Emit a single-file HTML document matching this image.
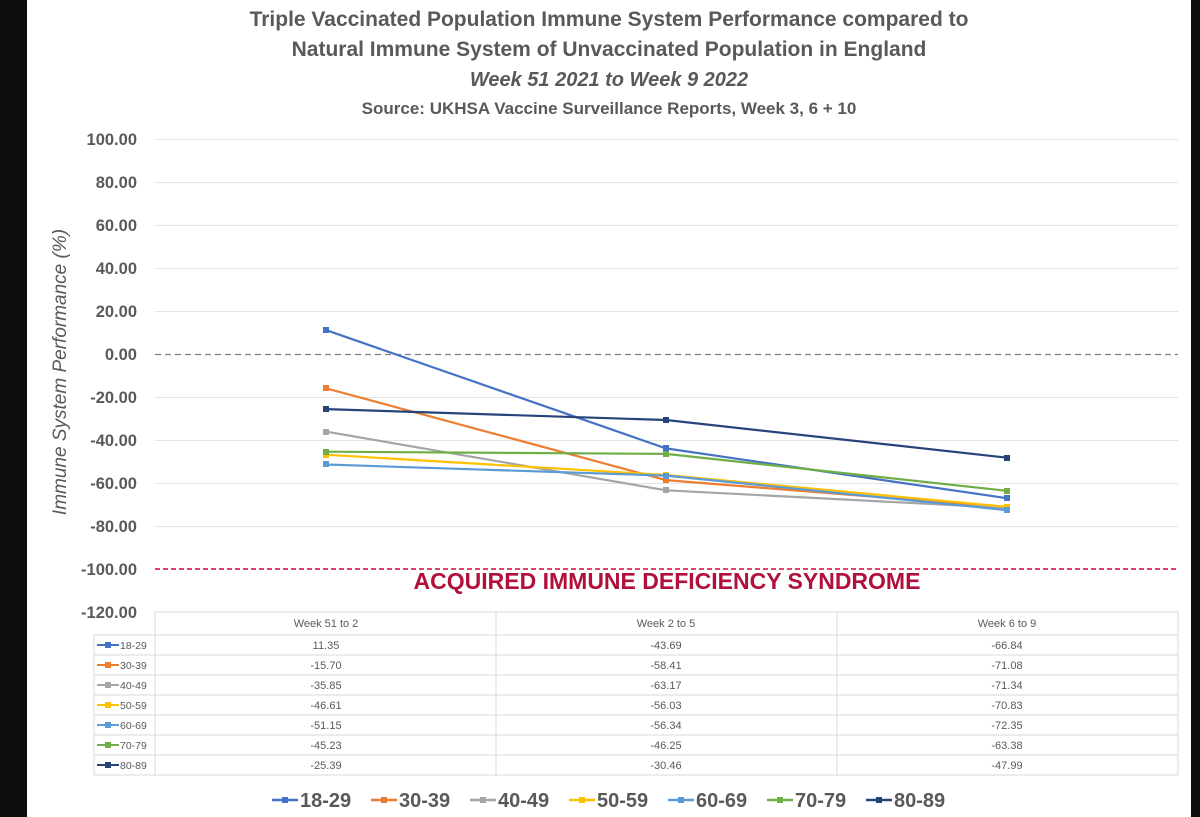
<!DOCTYPE html>
<html><head><meta charset="utf-8"><style>
body{margin:0;background:#0d0d0d;}
svg{display:block;font-family:"Liberation Sans",sans-serif;}
</style></head><body>
<svg width="1200" height="817" xmlns="http://www.w3.org/2000/svg">
<rect x="0" y="0" width="1200" height="817" fill="#0d0d0d"/>
<rect x="27" y="0" width="1164" height="817" fill="#fff"/>
<g fill="#595959" font-weight="bold" text-anchor="middle">
<text x="609" y="26" font-size="21">Triple Vaccinated Population Immune System Performance compared to</text>
<text x="609" y="56" font-size="21">Natural Immune System of Unvaccinated Population in England</text>
<text x="609" y="86" font-size="20" font-style="italic">Week 51 2021 to Week 9 2022</text>
<text x="609" y="114" font-size="17">Source: UKHSA Vaccine Surveillance Reports, Week 3, 6 + 10</text>
</g>
<g stroke="#e3e3e3" stroke-width="1">
<line x1="155" x2="1178" y1="139.5" y2="139.5"/><line x1="155" x2="1178" y1="182.5" y2="182.5"/>
<line x1="155" x2="1178" y1="225.5" y2="225.5"/><line x1="155" x2="1178" y1="268.5" y2="268.5"/>
<line x1="155" x2="1178" y1="311.5" y2="311.5"/><line x1="155" x2="1178" y1="397.5" y2="397.5"/>
<line x1="155" x2="1178" y1="440.5" y2="440.5"/><line x1="155" x2="1178" y1="483.5" y2="483.5"/>
<line x1="155" x2="1178" y1="526.5" y2="526.5"/>
</g>
<line x1="155" x2="1178" y1="354.5" y2="354.5" stroke="#808080" stroke-width="1.2" stroke-dasharray="6,4"/>
<line x1="155" x2="1178" y1="569" y2="569" stroke="#e0003c" stroke-width="1.5" stroke-dasharray="5,3"/>
<text x="667" y="589" font-size="23" font-weight="bold" fill="#b0103a" text-anchor="middle">ACQUIRED IMMUNE DEFICIENCY SYNDROME</text>
<g fill="#595959" font-weight="bold" font-size="16.5" text-anchor="end">
<text x="137" y="145">100.00</text><text x="137" y="188">80.00</text><text x="137" y="231">60.00</text>
<text x="137" y="274">40.00</text><text x="137" y="317">20.00</text><text x="137" y="360">0.00</text>
<text x="137" y="403">-20.00</text><text x="137" y="446">-40.00</text><text x="137" y="489">-60.00</text>
<text x="137" y="532">-80.00</text><text x="137" y="575">-100.00</text><text x="137" y="618">-120.00</text>
</g>
<text transform="translate(66,372) rotate(-90)" font-size="19" font-style="italic" fill="#595959" text-anchor="middle">Immune System Performance (%)</text>
<g fill="none" stroke-width="2.2">
<polyline stroke="#4472C4" points="326,330.1 666,448.4 1007,498.2"/>
<polyline stroke="#ED7D31" points="326,388.3 666,480.1 1007,507.3"/>
<polyline stroke="#A5A5A5" points="326,431.6 666,490.3 1007,507.9"/>
<polyline stroke="#FFC000" points="326,454.7 666,475.0 1007,506.8"/>
<polyline stroke="#5B9BD5" points="326,464.5 666,475.6 1007,510.1"/>
<polyline stroke="#70AD47" points="326,451.7 666,453.9 1007,490.8"/>
<polyline stroke="#264478" points="326,409.1 666,420.0 1007,457.7"/>
</g>
<g>
<g fill="#4472C4"><rect x="323" y="327" width="6" height="6"/><rect x="663" y="445" width="6" height="6"/><rect x="1004" y="495" width="6" height="6"/></g>
<g fill="#ED7D31"><rect x="323" y="385" width="6" height="6"/><rect x="663" y="477" width="6" height="6"/><rect x="1004" y="504" width="6" height="6"/></g>
<g fill="#A5A5A5"><rect x="323" y="429" width="6" height="6"/><rect x="663" y="487" width="6" height="6"/><rect x="1004" y="505" width="6" height="6"/></g>
<g fill="#FFC000"><rect x="323" y="452" width="6" height="6"/><rect x="663" y="472" width="6" height="6"/><rect x="1004" y="504" width="6" height="6"/></g>
<g fill="#5B9BD5"><rect x="323" y="461" width="6" height="6"/><rect x="663" y="473" width="6" height="6"/><rect x="1004" y="507" width="6" height="6"/></g>
<g fill="#70AD47"><rect x="323" y="449" width="6" height="6"/><rect x="663" y="451" width="6" height="6"/><rect x="1004" y="488" width="6" height="6"/></g>
<g fill="#264478"><rect x="323" y="406" width="6" height="6"/><rect x="663" y="417" width="6" height="6"/><rect x="1004" y="455" width="6" height="6"/></g>
</g>
<g stroke="#d9d9d9" stroke-width="1" fill="none">
<rect x="155" y="612" width="1023" height="163"/>
<rect x="94" y="635" width="61" height="140"/>
<line x1="496" x2="496" y1="612" y2="775"/><line x1="837" x2="837" y1="612" y2="775"/>
<line x1="94" x2="1178" y1="635" y2="635"/><line x1="94" x2="1178" y1="655" y2="655"/>
<line x1="94" x2="1178" y1="675" y2="675"/><line x1="94" x2="1178" y1="695" y2="695"/>
<line x1="94" x2="1178" y1="715" y2="715"/><line x1="94" x2="1178" y1="735" y2="735"/>
<line x1="94" x2="1178" y1="755" y2="755"/>
</g>
<g font-size="11" fill="#595959" text-anchor="middle">
<text x="326" y="627">Week 51 to 2</text><text x="666" y="627">Week 2 to 5</text><text x="1007" y="627">Week 6 to 9</text>
<text x="326" y="649">11.35</text><text x="666" y="649">-43.69</text><text x="1007" y="649">-66.84</text>
<text x="326" y="669">-15.70</text><text x="666" y="669">-58.41</text><text x="1007" y="669">-71.08</text>
<text x="326" y="689">-35.85</text><text x="666" y="689">-63.17</text><text x="1007" y="689">-71.34</text>
<text x="326" y="709">-46.61</text><text x="666" y="709">-56.03</text><text x="1007" y="709">-70.83</text>
<text x="326" y="729">-51.15</text><text x="666" y="729">-56.34</text><text x="1007" y="729">-72.35</text>
<text x="326" y="749">-45.23</text><text x="666" y="749">-46.25</text><text x="1007" y="749">-63.38</text>
<text x="326" y="769">-25.39</text><text x="666" y="769">-30.46</text><text x="1007" y="769">-47.99</text>
</g>
<g font-size="10.5" fill="#595959">
<g stroke-width="2"><line x1="97" x2="119" y1="645" y2="645" stroke="#4472C4"/><line x1="97" x2="119" y1="665" y2="665" stroke="#ED7D31"/>
<line x1="97" x2="119" y1="685" y2="685" stroke="#A5A5A5"/><line x1="97" x2="119" y1="705" y2="705" stroke="#FFC000"/>
<line x1="97" x2="119" y1="725" y2="725" stroke="#5B9BD5"/><line x1="97" x2="119" y1="745" y2="745" stroke="#70AD47"/>
<line x1="97" x2="119" y1="765" y2="765" stroke="#264478"/></g>
<rect x="105" y="642" width="6" height="6" fill="#4472C4"/><rect x="105" y="662" width="6" height="6" fill="#ED7D31"/>
<rect x="105" y="682" width="6" height="6" fill="#A5A5A5"/><rect x="105" y="702" width="6" height="6" fill="#FFC000"/>
<rect x="105" y="722" width="6" height="6" fill="#5B9BD5"/><rect x="105" y="742" width="6" height="6" fill="#70AD47"/>
<rect x="105" y="762" width="6" height="6" fill="#264478"/>
<text x="120" y="649">18-29</text><text x="120" y="669">30-39</text><text x="120" y="689">40-49</text>
<text x="120" y="709">50-59</text><text x="120" y="729">60-69</text><text x="120" y="749">70-79</text><text x="120" y="769">80-89</text>
</g>
<g font-size="20" font-weight="bold" fill="#595959">
<g stroke-width="2.5">
<line x1="272" x2="298" y1="800" y2="800" stroke="#4472C4"/><line x1="371" x2="397" y1="800" y2="800" stroke="#ED7D31"/>
<line x1="470" x2="496" y1="800" y2="800" stroke="#A5A5A5"/><line x1="569" x2="595" y1="800" y2="800" stroke="#FFC000"/>
<line x1="668" x2="694" y1="800" y2="800" stroke="#5B9BD5"/><line x1="767" x2="793" y1="800" y2="800" stroke="#70AD47"/>
<line x1="866" x2="892" y1="800" y2="800" stroke="#264478"/>
</g>
<rect x="282" y="797" width="6" height="6" fill="#4472C4"/><rect x="381" y="797" width="6" height="6" fill="#ED7D31"/>
<rect x="480" y="797" width="6" height="6" fill="#A5A5A5"/><rect x="579" y="797" width="6" height="6" fill="#FFC000"/>
<rect x="678" y="797" width="6" height="6" fill="#5B9BD5"/><rect x="777" y="797" width="6" height="6" fill="#70AD47"/>
<rect x="876" y="797" width="6" height="6" fill="#264478"/>
<text x="300" y="807">18-29</text><text x="399" y="807">30-39</text><text x="498" y="807">40-49</text>
<text x="597" y="807">50-59</text><text x="696" y="807">60-69</text><text x="795" y="807">70-79</text><text x="894" y="807">80-89</text>
</g>
</svg>
</body></html>
